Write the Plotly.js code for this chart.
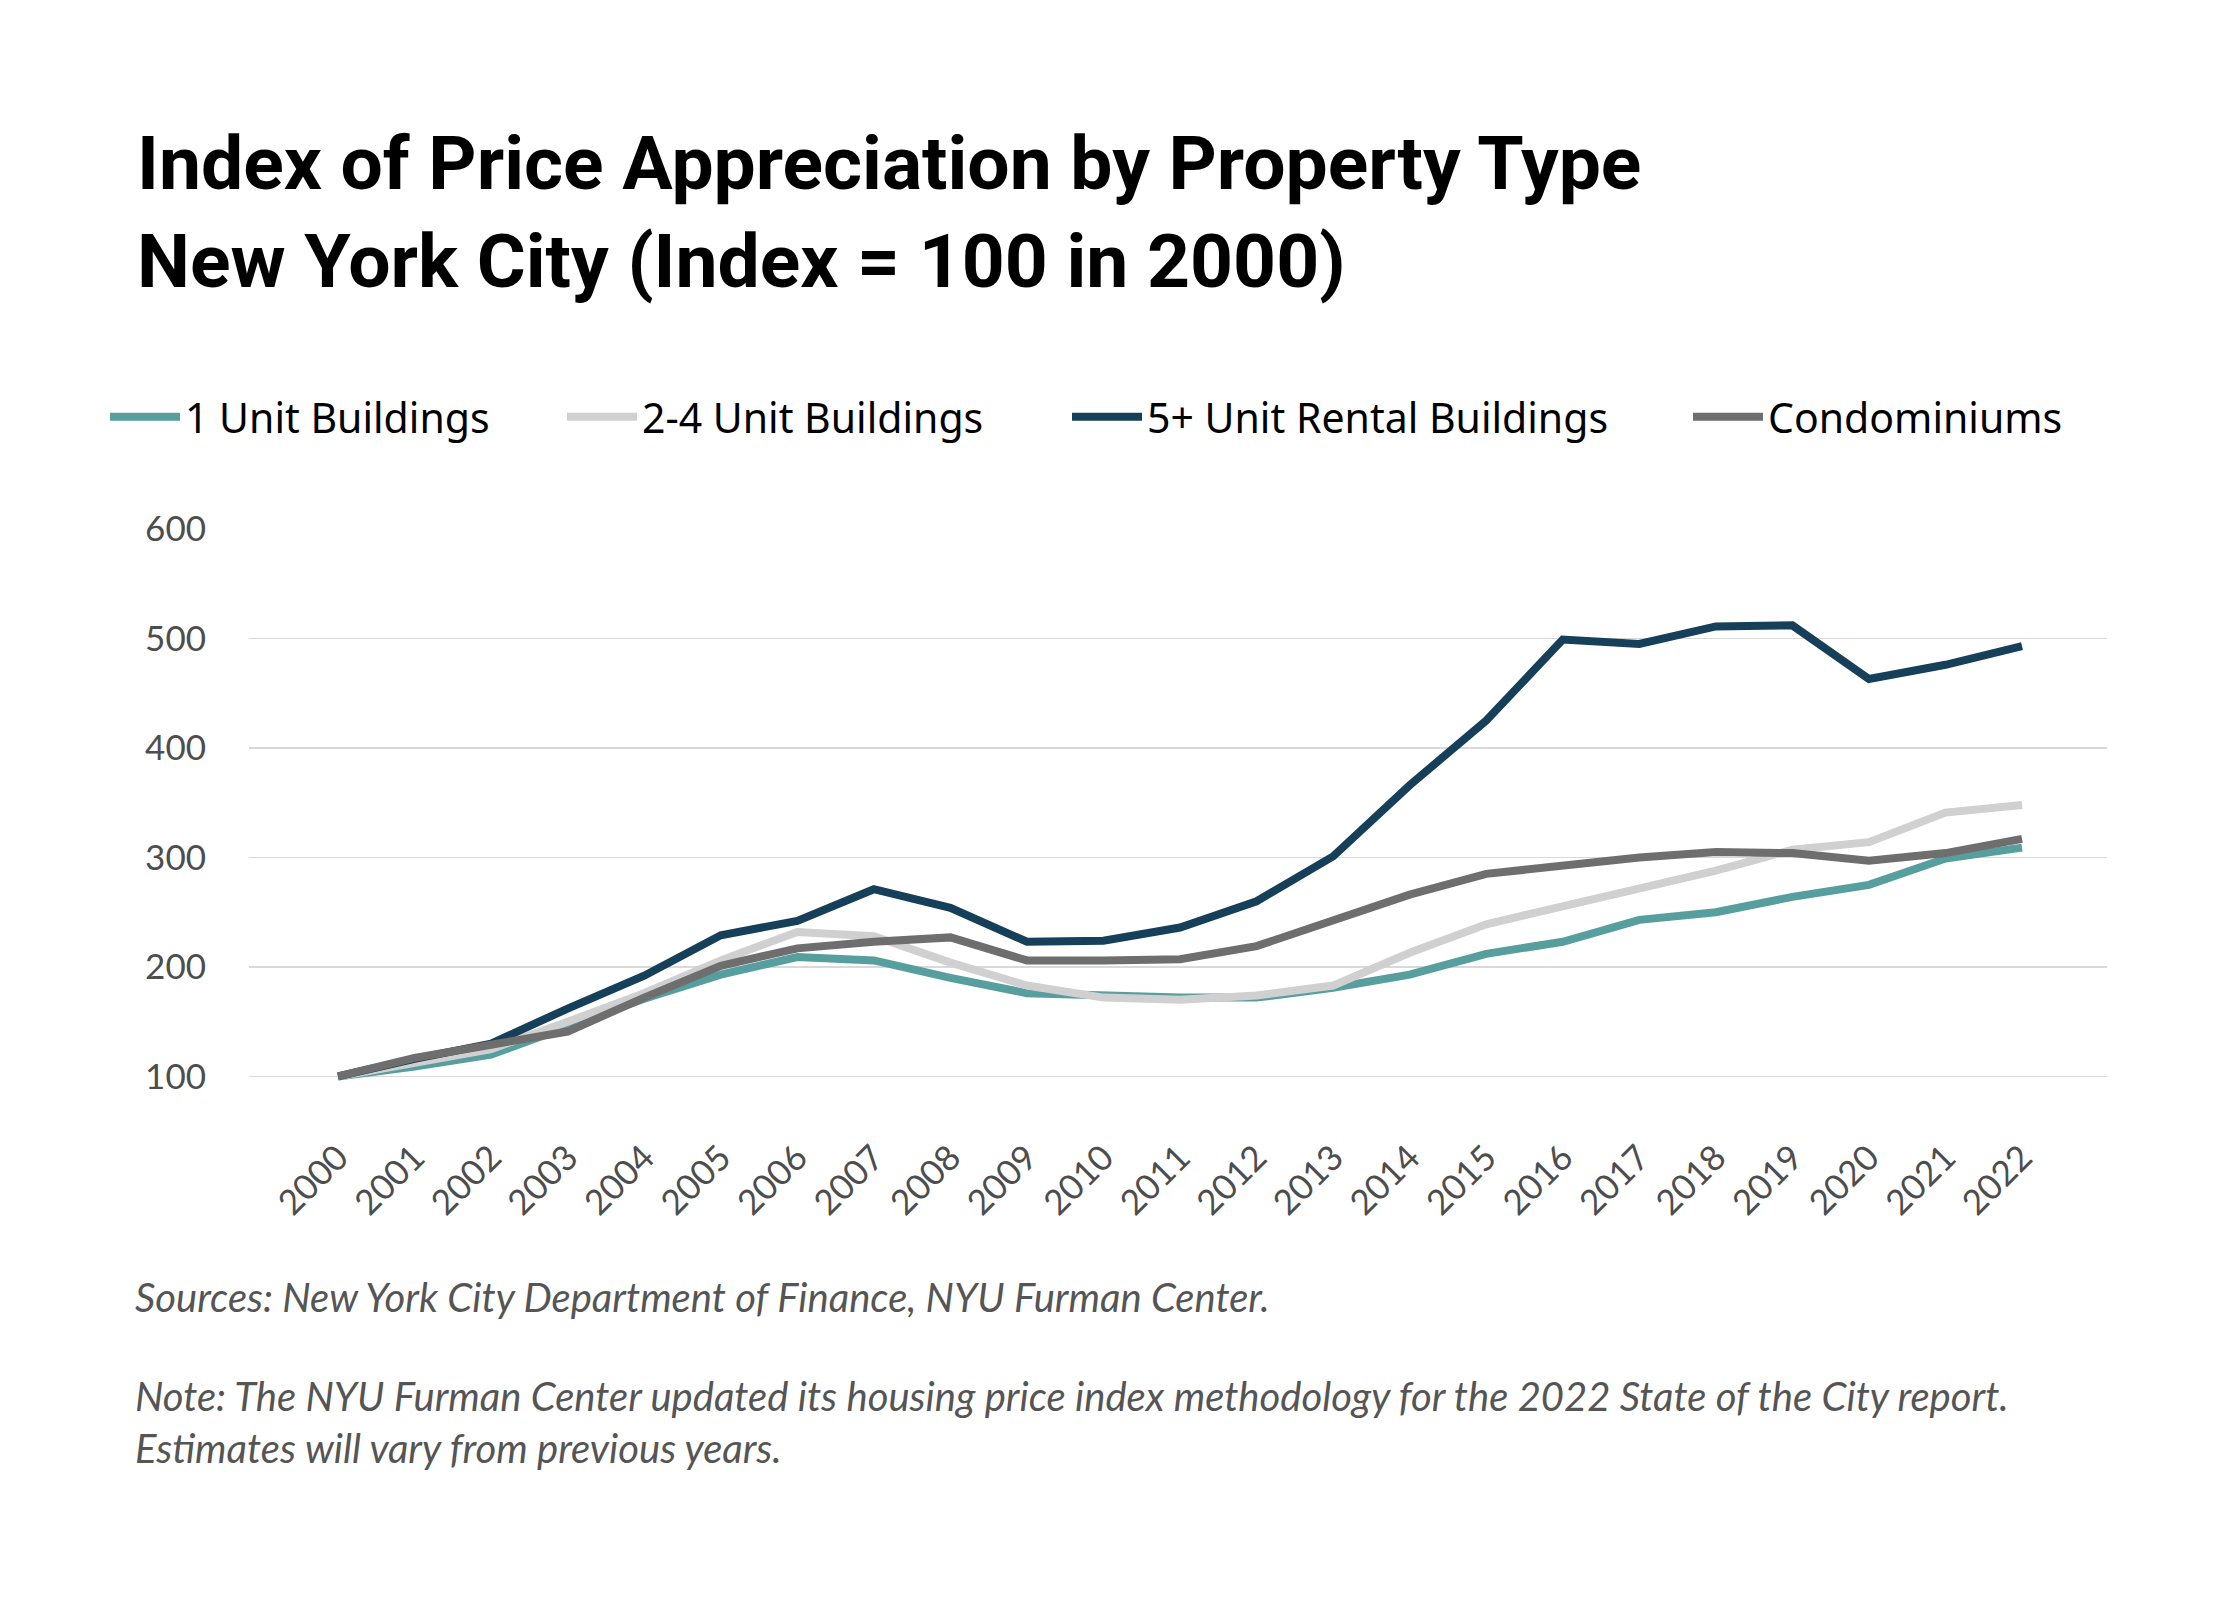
<!DOCTYPE html>
<html>
<head>
<meta charset="utf-8">
<script src="https://cdn.plot.ly/plotly-3.0.1.min.js"></script>
<style>
  html, body { margin: 0; padding: 0; background: #ffffff; }
  #chart { width: 2240px; height: 1600px; }
</style>
</head>
<body>
<div id="chart"></div>
<script>
// ---- Data ----
const years = [2000, 2001, 2002, 2003, 2004, 2005, 2006, 2007, 2008, 2009, 2010, 2011,
               2012, 2013, 2014, 2015, 2016, 2017, 2018, 2019, 2020, 2021, 2022];
const yearLabels = years.map(String);

const oneUnit   = [100, 109, 120, 145, 171, 193, 209, 206, 190, 176, 174, 172,
                   172, 181, 193, 212, 223, 243, 250, 264, 275, 299, 309];
const twoFour   = [100, 113, 125, 150, 176, 206, 232, 228, 204, 183, 172, 170,
                   174, 183, 213, 239, 255, 271, 288, 307, 314, 341, 348];
const fivePlus  = [100, 116, 130, 162, 192, 229, 242, 271, 254, 223, 224, 236,
                   260, 301, 366, 425, 499, 495, 511, 512, 463, 476, 493];
const condos    = [100, 117, 129, 141, 172, 201, 217, 223, 227, 206, 206, 207,
                   219, 243, 266, 285, 293, 300, 305, 304, 297, 304, 317];

const seriesNames = ["1 Unit Buildings", "2-4 Unit Buildings", "5+ Unit Rental Buildings", "Condominiums"];
const seriesColors = ["#579e9f", "#d0d0d0", "#163f59", "#6e6e6e"];
const seriesValues = [oneUnit, twoFour, fivePlus, condos];
const yTicks = [100, 200, 300, 400, 500, 600];

const titleText = "Index of Price Appreciation by Property Type<br>New York City (Index = 100 in 2000)";
const sourceText = "Sources: New York City Department of Finance, NYU Furman Center.";
const noteText = "Note: The NYU Furman Center updated its housing price index methodology for the 2022 State of the City report.<br>Estimates will vary from previous years.";

// ---- Layout geometry ----
const W = 2240, H = 1600;
const plotL = 249, plotR = 2107, plotT = 529, plotB = 1129;
const legendXs = [105, 562, 1067, 1688];   // px, left of each legend box
const legendNames = ["legend", "legend2", "legend3", "legend4"];

const traces = seriesValues.map((vals, i) => ({
  type: "scatter",
  mode: "lines",
  x: years,
  y: vals,
  name: seriesNames[i],
  legend: legendNames[i],
  line: { color: seriesColors[i], width: 8 },
  hoverinfo: "skip"
}));

const legendBase = {
  orientation: "h",
  xref: "container",
  yref: "container",
  yanchor: "middle",
  xanchor: "left",
  y: 1 - 417 / H,
  bgcolor: "rgba(0,0,0,0)",
  borderwidth: 0,
  itemwidth: 70,
  font: { family: "Noto Sans, Roboto, sans-serif", size: 41, color: "#000000" }
};

const layout = {
  width: W,
  height: H,
  paper_bgcolor: "#ffffff",
  plot_bgcolor: "#ffffff",
  margin: { l: plotL, r: W - plotR, t: plotT, b: H - plotB, pad: 0 },
  title: {
    text: titleText,
    font: { family: "Roboto, Lato, sans-serif", size: 75, color: "#000000", weight: 700 },
    xref: "container",
    yref: "container",
    x: 137 / W,
    xanchor: "left",
    y: 1 - 189 / H,
    yanchor: "top"
  },
  showlegend: true,
  legend:  Object.assign({}, legendBase, { x: legendXs[0] / W }),
  legend2: Object.assign({}, legendBase, { x: legendXs[1] / W }),
  legend3: Object.assign({}, legendBase, { x: legendXs[2] / W }),
  legend4: Object.assign({}, legendBase, { x: legendXs[3] / W }),
  xaxis: {
    type: "linear",
    range: [1998.837, 2023.11],
    tickmode: "array",
    tickvals: years,
    ticktext: yearLabels,
    tickangle: -45,
    showgrid: false,
    zeroline: false,
    showline: false,
    ticks: "",
    tickfont: { family: "Lato, sans-serif", size: 35, color: "#4d4d4d" },
    fixedrange: true
  },
  yaxis: {
    range: [52, 600],
    tickmode: "array",
    tickvals: yTicks,
    ticktext: yTicks.map(String),
    showgrid: true,
    gridcolor: "#d9d9d9",
    gridwidth: 1.5,
    zeroline: false,
    showline: false,
    ticks: "",
    ticklabelstandoff: 42,
    tickfont: { family: "Lato, sans-serif", size: 35, color: "#4d4d4d" },
    fixedrange: true
  },
  annotations: [
    {
      text: sourceText,
      xref: "paper", yref: "paper",
      x: (133 - plotL) / (plotR - plotL),
      y: (plotB - 1297) / (plotB - plotT),
      xanchor: "left", yanchor: "middle",
      align: "left",
      showarrow: false,
      font: { family: "Lato, sans-serif", size: 40, color: "#555555", style: "italic" }
    },
    {
      text: noteText,
      xref: "paper", yref: "paper",
      x: (133 - plotL) / (plotR - plotL),
      y: (plotB - 1422) / (plotB - plotT),
      xanchor: "left", yanchor: "middle",
      align: "left",
      showarrow: false,
      font: { family: "Lato, sans-serif", size: 40, color: "#555555", style: "italic" }
    }
  ]
};

Plotly.newPlot("chart", traces, layout, { displayModeBar: false, staticPlot: true });
</script>
</body>
</html>
